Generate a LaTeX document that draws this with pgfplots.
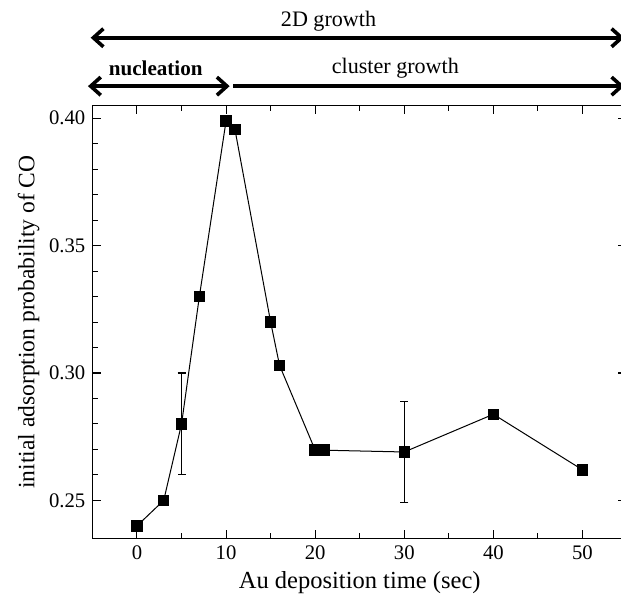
\documentclass[border=0pt]{standalone}
\usepackage{fontspec}
\setmainfont{Liberation Serif}
\usepackage{pgfplots}
\pgfplotsset{compat=1.18}
\usetikzlibrary{arrows.meta}

\begin{document}
\begin{tikzpicture}
\begin{axis}[
  scale only axis,
  width=266pt, height=215.5pt,
  xmin=-5, xmax=55,
  ymin=0.235, ymax=0.405,
  xtick={0,10,...,50},
  minor x tick num=1,
  ytick={0.25,0.30,0.35,0.40},
  minor y tick num=4,
  tick align=inside,
  axis line style={line width=0.6pt},
  every tick/.style={black, line width=0.5pt},
  yticklabel style={/pgf/number format/.cd, fixed, fixed zerofill, precision=2},
  /pgf/number format/assume math mode=true,
  tick label style={font=\fontsize{10.3}{12}\selectfont},
  xlabel={Au deposition time (sec)},
  ylabel={initial adsorption probability of CO},
  xlabel style={font=\fontsize{12.2}{14}\selectfont, yshift=1pt},
  ylabel style={font=\fontsize{11.7}{14}\selectfont, yshift=-2pt},
  clip=false,
]
\addplot[black, line width=0.5pt, mark=square*, mark size=2.6pt,
  error bars/.cd, y dir=both, y explicit,
  error bar style={line width=0.5pt},
  error mark options={rotate=90, mark size=2pt, line width=0.5pt}]
coordinates {
  (0, 0.240)
  (3, 0.250)
  (5, 0.280) +- (0, 0.020)
  (7, 0.330)
  (10, 0.399)
  (11, 0.3955)
  (15, 0.320)
  (16, 0.303)
  (20, 0.2697)
  (21, 0.2697)
  (30, 0.269) +- (0, 0.020)
  (40, 0.2838)
  (50, 0.262)
};

% phase arrows above the plot
\draw[line width=1.8pt, {Straight Barb[length=5pt,width=9pt]}-{Straight Barb[length=5pt,width=9pt]}]
  (axis cs:-5.2,0.4316) -- (axis cs:54.7,0.4316);
\node[font=\fontsize{11}{13}\selectfont] at (axis cs:21.5,0.4379) {2D growth};
\draw[line width=1.8pt, {Straight Barb[length=5pt,width=9pt]}-{Straight Barb[length=5pt,width=9pt]}]
  (axis cs:-5.5,0.4126) -- (axis cs:10.4,0.4126);
\node[font=\fontsize{10.5}{13}\bfseries] at (axis cs:2.1,0.4197) {nucleation};
\draw[line width=1.8pt, -{Straight Barb[length=5pt,width=9pt]}]
  (axis cs:10.8,0.4126) -- (axis cs:54.7,0.4126);
\node[font=\fontsize{11}{13}\selectfont] at (axis cs:29.0,0.4197) {cluster growth};
\end{axis}
\pgfresetboundingbox
\path[use as bounding box] (-46pt,-29pt) rectangle (263pt,268pt);
\end{tikzpicture}
\end{document}
